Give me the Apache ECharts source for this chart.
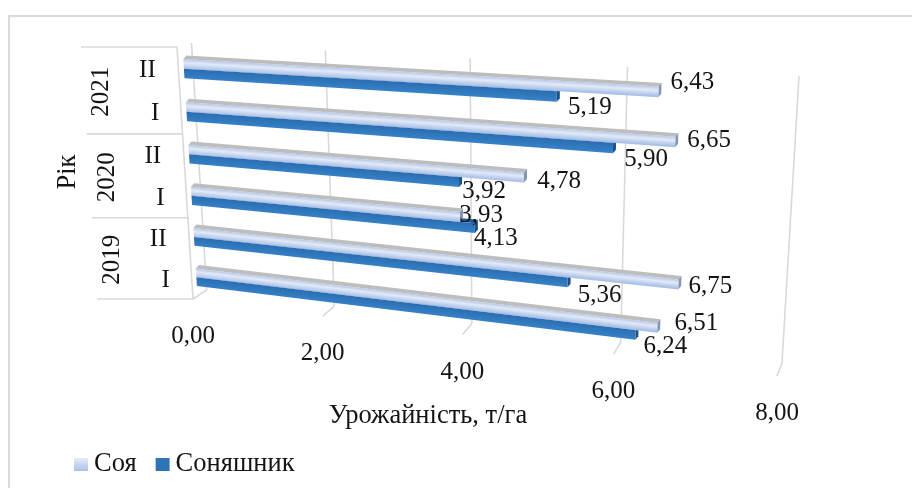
<!DOCTYPE html>
<html>
<head>
<meta charset="utf-8">
<style>html,body{margin:0;padding:0;background:#fff}#c{width:912px;height:488px}</style>
<script src="https://cdn.jsdelivr.net/npm/echarts@6/dist/echarts.min.js"></script>
</head>
<body>
<div id="c"></div>
<script>
// Yield data, listed bottom row first
const years = ['2019', '2020', '2021'];
const sowings = ['I', 'II', 'I', 'II', 'I', 'II'];
const soy = [6.51, 6.75, 3.93, 4.78, 6.65, 6.43];
const sunflower = [6.24, 5.36, 4.13, 3.92, 5.90, 5.19];
const valueTicks = [0, 2, 4, 6, 8];
const seriesNames = ['Соя', 'Соняшник'];
const valueTitle = 'Урожайність, т/га';
const rowTitle = 'Рік';

const W = 912, H = 488, V_MAX = 8, ROWS = 6;
const FONT = '"Liberation Serif", "Times New Roman", serif';
const FONT_SIZE = 25, TITLE_SIZE = 26.5;
const TEXT = '#141414', GRID = '#d9d9d9';

// Perspective planes of the 3D box: [v=0 r=0, v=max r=0, v=max r=max, v=0 r=max]
const WALL = [[206.7, 290], [782, 363], [799, 76], [191.5, 43]];
const BARS = [[197.5, 296], [779, 369], [796, 78.5], [182.5, 45.5]];
const FRONT = [[193, 299], [777, 376], [794, 84], [177, 47]];
const BAR_DEPTH = [3, -3.5];

// Unit square to quadrilateral projective map
function homography(q) {
  const [p0, p1, p2, p3] = q;
  const dx1 = p1[0] - p2[0], dy1 = p1[1] - p2[1];
  const dx2 = p3[0] - p2[0], dy2 = p3[1] - p2[1];
  const sx = p0[0] - p1[0] + p2[0] - p3[0], sy = p0[1] - p1[1] + p2[1] - p3[1];
  const det = dx1 * dy2 - dx2 * dy1;
  const g = (sx * dy2 - dx2 * sy) / det, h = (dx1 * sy - sx * dy1) / det;
  const a = p1[0] - p0[0] + g * p1[0], b = p3[0] - p0[0] + h * p3[0];
  const d = p1[1] - p0[1] + g * p1[1], e = p3[1] - p0[1] + h * p3[1];
  return (u, w) => {
    const z = 1 + g * u + h * w;
    return [(a * u + b * w + p0[0]) / z, (d * u + e * w + p0[1]) / z];
  };
}
const wallMap = homography(WALL), barMap = homography(BARS), frontMap = homography(FRONT);

// Value/row go through the chart's own scales, then onto a perspective plane
function placer(api, map) {
  return (v, r) => {
    const c = api.coord([v, r]);
    return map(c[0] / W, 1 - c[1] / H);
  };
}
const shift = (p, d) => [p[0] + d[0], p[1] + d[1]];
const fmt = v => v.toFixed(2).replace('.', ',');
const polygon = (points, fill, z2) => ({ type: 'polygon', shape: { points }, style: { fill }, z2, silent: true });
const label = (text, x, y, rotation) => ({
  type: 'text', x, y, rotation: rotation || 0, z2: 100, silent: true,
  style: { text, font: FONT_SIZE + 'px ' + FONT, fill: TEXT, align: 'center', verticalAlign: 'middle' }
});
const line = (a, b) => ({
  type: 'line', shape: { x1: a[0], y1: a[1], x2: b[0], y2: b[1] },
  style: { stroke: GRID, lineWidth: 1.6 }, z2: 0, silent: true
});

// Label nudges from the bar end, per row from the bottom
const soyLabelShift = [[39, -4], [32, 2], [21, -2], [35, 4], [34, -2], [34, -9]];
const sunLabelShift = [[30, 11], [32, 13], [21, 10], [25, 9], [33, 11], [33, 11]];

function barItem(look, shifts) {
  return (params, api) => {
    const v = api.value(0), k = api.value(1);
    const at = placer(api, barMap);
    const a = at(0, k + look.top), b = at(v, k + look.top);
    const c = at(v, k + look.bottom), e = at(0, k + look.bottom);
    const len = Math.hypot(b[0] - a[0], b[1] - a[1]);
    const nx = -(b[1] - a[1]) / len, ny = (b[0] - a[0]) / len;
    const h = (e[0] - a[0]) * nx + (e[1] - a[1]) * ny;
    const fill = new echarts.graphic.LinearGradient(a[0], a[1], a[0] + nx * h, a[1] + ny * h, look.stops, true);
    const mid = [(b[0] + c[0]) / 2, (b[1] + c[1]) / 2];
    const off = shifts[k];
    return {
      type: 'group',
      children: [
        polygon([a, b, shift(b, BAR_DEPTH), shift(a, BAR_DEPTH)], look.topFace, look.z),
        polygon([b, shift(b, BAR_DEPTH), shift(c, BAR_DEPTH), c], look.cap, look.z),
        polygon([a, b, c, e], fill, look.z + 1),
        label(fmt(v), mid[0] + off[0], mid[1] + off[1])
      ]
    };
  };
}

const soyLook = {
  top: 0.69, bottom: 0.47, z: 20, topFace: '#bdbdbd', cap: '#8497b0',
  stops: [{ offset: 0, color: '#b4c7e7' }, { offset: 0.4, color: '#e3eaf7' }, { offset: 1, color: '#a9c1e8' }]
};
const sunLook = {
  top: 0.47, bottom: 0.25, z: 10, topFace: '#1f5a94', cap: '#1d4f80',
  stops: [{ offset: 0, color: '#2a6db0' }, { offset: 1, color: '#3580c6' }]
};

// Back wall, floor ticks, value labels
function gridItem(params, api) {
  const v = api.value(0);
  const wall = placer(api, wallMap), front = placer(api, frontMap);
  const foot = front(v, 0);
  const children = [line(wall(v, ROWS), wall(v, 0)), line(wall(v, 0), foot)];
  children.push(label(fmt(v), foot[0], foot[1] + 37.5));
  return { type: 'group', children };
}

// Left side: row bracket lines, sowing and year labels
function rowAxisItem(params, api) {
  const front = placer(api, frontMap);
  const children = [line(front(0, ROWS), front(0, 0))];
  [0, 2, 4, 6].forEach(r => {
    const p = front(0, r);
    children.push(line(p, [p[0] - 96, p[1]]));
  });
  sowings.forEach((s, i) => {
    const p = front(0, i + 0.5);
    children.push(label(s, p[0] + (s === 'II' ? -31 : -26), p[1] + 1));
  });
  years.forEach((y, i) => {
    const p = front(0, i * 2 + 1);
    children.push(label(y, p[0] - 78, p[1] + 1, Math.PI / 2));
  });
  return { type: 'group', children };
}

const base = { type: 'custom', coordinateSystem: 'cartesian2d', clip: false, silent: true, encode: { x: 0, y: 1 } };
const chart = echarts.init(document.getElementById('c'), null, { renderer: 'canvas' });
chart.setOption({
  animation: false,
  backgroundColor: '#fff',
  grid: { left: 0, top: 0, right: 0, bottom: 0 },
  xAxis: { type: 'value', min: 0, max: V_MAX, interval: 2, show: false },
  yAxis: { type: 'value', min: 0, max: ROWS, interval: 1, show: false },
  legend: {
    left: 69, top: 446, itemWidth: 14, itemHeight: 13, itemGap: 19, icon: 'rect',
    selectedMode: false,
    textStyle: { fontFamily: FONT, fontSize: TITLE_SIZE, color: TEXT, padding: [0, 0, 0, 1] },
    data: seriesNames
  },
  graphic: [
    { type: 'polyline', shape: { points: [[9, H], [9, 16], [W, 16]] }, style: { stroke: GRID, fill: null, lineWidth: 2 }, silent: true },
    { type: 'text', x: 428, y: 416, silent: true, style: { text: valueTitle, font: TITLE_SIZE + 'px ' + FONT, fill: TEXT, align: 'center', verticalAlign: 'middle' } },
    { type: 'text', x: 68, y: 172, rotation: Math.PI / 2, silent: true, style: { text: rowTitle, font: TITLE_SIZE + 'px ' + FONT, fill: TEXT, align: 'center', verticalAlign: 'middle' } }
  ],
  series: [
    Object.assign({}, base, { name: 'grid', data: valueTicks.map(v => [v, 0]), renderItem: gridItem }),
    Object.assign({}, base, { name: 'rows', data: [[0, 0]], renderItem: rowAxisItem }),
    Object.assign({}, base, {
      name: seriesNames[0], data: soy.map((v, i) => [v, i]), renderItem: barItem(soyLook, soyLabelShift),
      itemStyle: { color: new echarts.graphic.LinearGradient(0, 0, 0, 1, [{ offset: 0, color: '#e6ecf8' }, { offset: 1, color: '#a9c1e8' }]) }
    }),
    Object.assign({}, base, {
      name: seriesNames[1], data: sunflower.map((v, i) => [v, i]), renderItem: barItem(sunLook, sunLabelShift),
      itemStyle: { color: '#2e75b6' }
    })
  ]
});
</script>
</body>
</html>
